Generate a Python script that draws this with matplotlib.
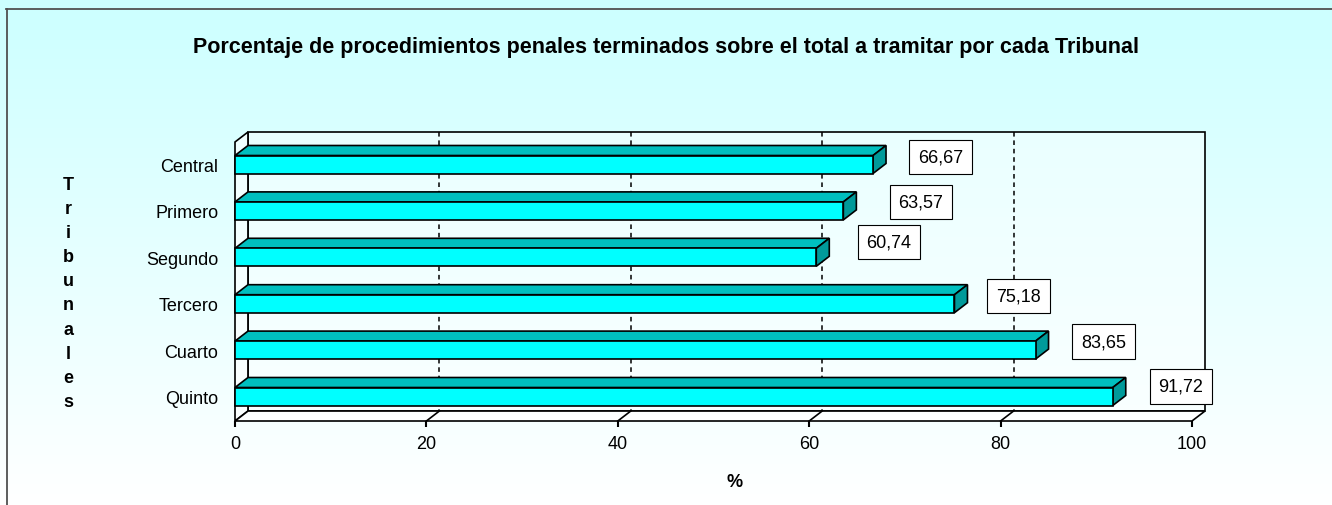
import numpy as np
import matplotlib
matplotlib.use("Agg")
import matplotlib.pyplot as plt
from matplotlib.patches import Polygon, Rectangle
from matplotlib.lines import Line2D
from matplotlib.colors import LinearSegmentedColormap

plt.rcParams['font.family'] = ['Liberation Sans', 'DejaVu Sans']

# ---- data ----
categories = ["Central", "Primero", "Segundo", "Tercero", "Cuarto", "Quinto"]
values = [66.67, 63.57, 60.74, 75.18, 83.65, 91.72]
value_labels = ["66,67", "63,57", "60,74", "75,18", "83,65", "91,72"]
xticks = [0, 20, 40, 60, 80, 100]
title = "Porcentaje de procedimientos penales terminados sobre el total a tramitar por cada Tribunal"
ylabel = "Tribunales"
xlabel = "%"

# ---- layout (label box offsets from bar end, in pixels) ----
label_offsets_px = [(67.5, 7.5), (77.5, 9), (72.5, 15), (64, 8), (68, 8.5), (68, 10)]

W, H = 1332, 506
fig = plt.figure(figsize=(W / 100, H / 100), dpi=100)
PT = 0.72  # points per pixel at dpi 100

# background gradient
bg = fig.add_axes([0, 0, 1, 1], zorder=-10)
grad = np.linspace(0, 1, 256).reshape(-1, 1)
cmap = LinearSegmentedColormap.from_list("bg", ["#CCFFFF", "#FFFFFF"])
bg.imshow(grad, cmap=cmap, aspect="auto", extent=[0, 1, 0, 1], origin="upper")
bg.set_xlim(0, 1); bg.set_ylim(0, 1)
bg.axis("off")

# outer border (left and top only visible)
fig.add_artist(Line2D([7 / W, 7 / W], [0, 1 - 10 / H], transform=fig.transFigure,
                      color="#505050", lw=1.3))
fig.add_artist(Line2D([6 / W, 1], [1 - 10 / H, 1 - 10 / H], transform=fig.transFigure,
                      color="#505050", lw=1.3))

# main axes (front plane)
x0_px, x1_px = 235, 1192
ytop_px, ybot_px = 143, 422
cat0_px, spacing_px = 165.5, 46.4
ax = fig.add_axes([x0_px / W, 1 - ybot_px / H, (x1_px - x0_px) / W, (ybot_px - ytop_px) / H])
ax.patch.set_visible(False)
for s in ax.spines.values():
    s.set_visible(False)
y_top = -(cat0_px - ytop_px) / spacing_px
y_bot = (ybot_px - cat0_px) / spacing_px
ax.set_xlim(0, 100)
ax.set_ylim(y_bot, y_top)

px_per_x = (x1_px - x0_px) / 100.0
DX = 13 / px_per_x
DY = -10 / spacing_px

lw = 1.2
# back wall
ax.add_patch(Polygon([(DX, y_top + DY), (100 + DX, y_top + DY), (100 + DX, y_bot + DY), (DX, y_bot + DY)],
                     closed=True, fc=(1, 1, 1, 0.45), ec="black", lw=lw, clip_on=False, zorder=1))
# left wall
ax.add_patch(Polygon([(0, y_top), (DX, y_top + DY), (DX, y_bot + DY), (0, y_bot)],
                     closed=True, fc=(1, 1, 1, 0.6), ec="black", lw=lw, clip_on=False, zorder=1.5))
# floor
ax.add_patch(Polygon([(0, y_bot), (100, y_bot), (100 + DX, y_bot + DY), (DX, y_bot + DY)],
                     closed=True, fc=(1, 1, 1, 0.8), ec="black", lw=lw, clip_on=False, zorder=1.5))
# gridlines
for v in xticks[1:-1]:
    ax.plot([v + DX, v + DX], [y_top + DY, y_bot + DY], color="black", lw=1.1,
            ls=(0, (3, 2.5)), clip_on=False, zorder=1.2)
    ax.plot([v + DX, v], [y_bot + DY, y_bot], color="black", lw=lw, clip_on=False, zorder=1.6)

# bars
h = 18 / spacing_px
for i, v in enumerate(values):
    yt = i - h / 2
    yb = i + h / 2
    ax.add_patch(Polygon([(0, yt), (v, yt), (v + DX, yt + DY), (DX, yt + DY)],
                         closed=True, fc="#00BFBF", ec="black", lw=lw, clip_on=False, zorder=3))
    ax.add_patch(Polygon([(v, yt), (v + DX, yt + DY), (v + DX, yb + DY), (v, yb)],
                         closed=True, fc="#009A9A", ec="black", lw=lw, clip_on=False, zorder=3))
    ax.add_patch(Rectangle((0, yt), v, h, fc="#00FFFF", ec="black", lw=lw, clip_on=False, zorder=3))
    ox, oy = label_offsets_px[i]
    ax.annotate(value_labels[i], xy=(v, i), xytext=(ox * PT, oy * PT),
                textcoords="offset points", ha="center", va="center", fontsize=13,
                bbox=dict(boxstyle="square,pad=0.48", fc="white", ec="black", lw=0.8),
                zorder=5, annotation_clip=False)

ax.set_xticks(xticks)
ax.set_xticklabels([str(t) for t in xticks], fontsize=13)
ax.tick_params(axis="x", length=4, width=1.5, pad=6, direction="out")
ax.set_yticks(range(len(categories)))
ax.set_yticklabels(categories, fontsize=13)
ax.tick_params(axis="y", length=0, pad=12)

fig.text(0.5, 1 - 48 / H, title, ha="center", va="center", fontsize=15.5, fontweight="bold")
for k, ch in enumerate(ylabel):
    fig.text(68 / W, 1 - (185 + k * 24.2) / H, ch, ha="center", va="center",
             fontsize=13, fontweight="bold")
fig.text(735 / W, 1 - 483 / H, xlabel, ha="center", va="center", fontsize=13, fontweight="bold")

fig.savefig("out.png", dpi=100)
